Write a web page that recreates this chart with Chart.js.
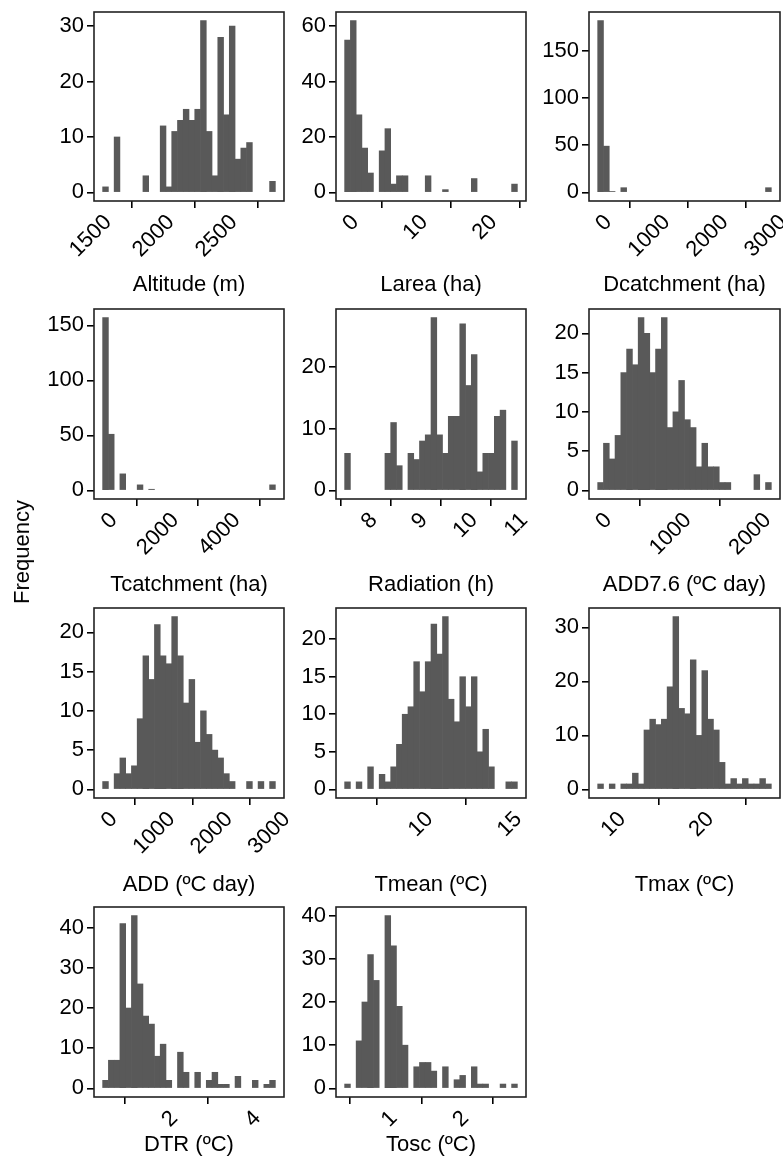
<!DOCTYPE html>
<html><head><meta charset="utf-8">
<script src="https://cdn.jsdelivr.net/npm/chart.js@4.4.1/dist/chart.umd.min.js"></script>
<style>
html,body{margin:0;padding:0;background:#fff;}
body{width:783px;height:1163px;position:relative;overflow:hidden;font-family:"Liberation Sans",Arial,sans-serif;}
canvas{position:absolute;}
.t{position:absolute;font-size:22px;color:#000;white-space:nowrap;transform:translate(-50%,-50%);line-height:1;}
</style></head><body>
<script>
// ---- data ----
const panelNames = ["Altitude (m)","Larea (ha)","Dcatchment (ha)","Tcatchment (ha)","Radiation (h)","ADD7.6 (ºC day)","ADD (ºC day)","Tmean (ºC)","Tmax (ºC)","DTR (ºC)","Tosc (ºC)"];
const yAxisTitle = "Frequency";

const altitudeCounts  = [1,0,10,0,0,0,0,3,0,0, 12,1,11,13,15,13,15,31,11,3, 28,14,30,6,8,9,0,0,0,2];
const lareaCounts     = [55,62,28,16,7,0,15,23,3,6, 6,0,0,0,6,0,0,1,0,0, 0,0,5,0,0,0,0,0,0,3];
const dcatchCounts    = [182,49,1,0,5,0,0,0,0,0, 0,0,0,0,0,0,0,0,0,0, 0,0,0,0,0,0,0,0,0,5];
const tcatchCounts    = [157,51,0,15,0,0,5,0,1,0, 0,0,0,0,0,0,0,0,0,0, 0,0,0,0,0,0,0,0,0,5];
const radiationCounts = [6,0,0,0,0,0,0,6,11,4, 0,6,5,8,9,28,9,6,12,12, 27,17,22,3,6,6,12,13,0,8];
const add76Counts     = [1,6,4,7,15,18,16,22,20,15, 18,22,8,10,14,9,8,3,6,3, 3,1,1,0,0,0,0,2,0,1];
const addCounts       = [1,0,2,4,2,3,9,17,14,21, 17,16,22,17,11,14,6,10,7,5, 4,2,1,0,0,1,0,1,0,1];
const tmeanCounts     = [1,0,1,0,3,0,2,1,3,6, 10,11,17,13,17,22,18,23,12,9, 15,11,15,5,8,3,0,0,1,1];
const tmaxCounts      = [1,0,1,0,1,1,3,1,11,13, 12,13,19,32,15,14,24,10,22,13, 11,5,1,2,1,2,1,1,2,1];
const dtrCounts       = [2,7,7,41,20,43,26,18,16,8, 11,2,0,9,4,0,4,0,2,4, 1,1,0,3,0,0,2,0,1,2];
const toscCounts      = [1,0,11,20,31,25,0,40,33,19, 10,0,5,6,6,4,0,5,0,2, 3,0,5,1,1,0,0,1,0,1];

const binStarts = [1521, -0.38, -46, -108, 7.577, -33.5, -57.6, 5.672, 8.106, 0.470, 0.426];
const binWidths = [45.7, 0.833, 99.4, 187.3, 0.1148, 72.7, 100, 0.324, 0.658, 0.1384, 0.0804];

const xTickValues = [[1500,2000,2500],[0,10,20],[0,1000,2000,3000],[0,2000,4000],[8,9,10,11],[0,1000,2000],[0,1000,2000,3000],[10,15],[10,20],[2,4],[1,2]];
const yTickValues = [[0,10,20,30],[0,20,40,60],[0,50,100,150],[0,50,100,150],[0,10,20],[0,5,10,15,20],[0,5,10,15,20],[0,5,10,15,20],[0,10,20,30],[0,10,20,30,40],[0,10,20,30,40]];

const allCounts = [altitudeCounts,lareaCounts,dcatchCounts,tcatchCounts,radiationCounts,add76Counts,addCounts,tmeanCounts,tmaxCounts,dtrCounts,toscCounts];

// ---- layout ----
const cols = [{l:94,w:190},{l:336,w:190},{l:589,w:191}];
const rows = [{t:12,h:189},{t:309,h:190},{t:608,h:190},{t:907,h:190}];
const titleY = [284,584,884,1144];
const YW = 70, XH = 90, PT = 20, PR = 20;
const FONT = '"Liberation Sans", Arial, sans-serif';
const TICK_SIZE = 22;

const boxPlugin = {
  id:'box',
  afterDraw(chart){
    const {ctx, chartArea:a} = chart;
    ctx.save();
    ctx.strokeStyle = '#222';
    ctx.lineWidth = 1.6;
    ctx.strokeRect(a.left, a.top, a.right-a.left, a.bottom-a.top);
    ctx.restore();
  }
};

allCounts.forEach((counts, i) => {
  const c = cols[i % 3], r = rows[Math.floor(i / 3)];
  const cv = document.createElement('canvas');
  cv.width = YW + c.w + PR; cv.height = PT + r.h + XH;
  cv.style.left = (c.l - YW) + 'px'; cv.style.top = (r.t - PT) + 'px';
  cv.style.width = cv.width + 'px'; cv.style.height = cv.height + 'px';
  document.body.appendChild(cv);

  const bs = binStarts[i], bw = binWidths[i];
  const span = counts.length * bw;
  const xmin = bs - 0.05 * span, xmax = bs + span + 0.05 * span;
  const ymax = Math.max(...counts);
  const data = counts.map((v, k) => ({x: bs + (k + 0.5) * bw, y: v === 0 ? null : v}));
  const xt = xTickValues[i], yt = yTickValues[i];

  new Chart(cv, {
    type: 'bar',
    data: {datasets: [{data, backgroundColor: '#595959', borderWidth: 0, barPercentage: 1, categoryPercentage: 1}]},
    options: {
      responsive: false, animation: false, devicePixelRatio: 1,
      layout: {autoPadding: false, padding: {top: PT, right: PR, left: 0, bottom: 0}},
      plugins: {legend: {display: false}, tooltip: {enabled: false}},
      scales: {
        x: {
          type: 'linear', min: xmin, max: xmax, offset: false,
          grid: {drawOnChartArea: false, drawTicks: true, tickLength: 7, color: '#000', lineWidth: 1.6},
          border: {display: false},
          ticks: {font: {family: FONT, size: TICK_SIZE}, color: '#000', maxRotation: 45, minRotation: 45,
                  padding: 1.5, labelOffset: 8, autoSkip: false, callback: v => String(v)},
          afterBuildTicks: s => { s.ticks = xt.map(v => ({value: v})); },
          afterFit: s => { s.height = XH; }
        },
        y: {
          type: 'linear', min: -0.05 * ymax, max: 1.05 * ymax,
          grid: {drawOnChartArea: false, drawTicks: true, tickLength: 7, color: '#000', lineWidth: 1.6},
          border: {display: false},
          ticks: {font: {family: FONT, size: TICK_SIZE}, color: '#000', padding: 3, autoSkip: false, callback: v => String(v)},
          afterBuildTicks: s => { s.ticks = yt.map(v => ({value: v})); },
          afterFit: s => { s.width = YW; }
        }
      }
    },
    plugins: [boxPlugin]
  });

  const t = document.createElement('div');
  t.className = 't';
  t.textContent = panelNames[i];
  t.style.left = (c.l + c.w / 2) + 'px';
  t.style.top = titleY[Math.floor(i / 3)] + 'px';
  document.body.appendChild(t);
});

const f = document.createElement('div');
f.className = 't';
f.textContent = yAxisTitle;
f.style.left = '22px'; f.style.top = '552px';
f.style.transform = 'translate(-50%,-50%) rotate(-90deg)';
document.body.appendChild(f);
</script>
</body></html>
